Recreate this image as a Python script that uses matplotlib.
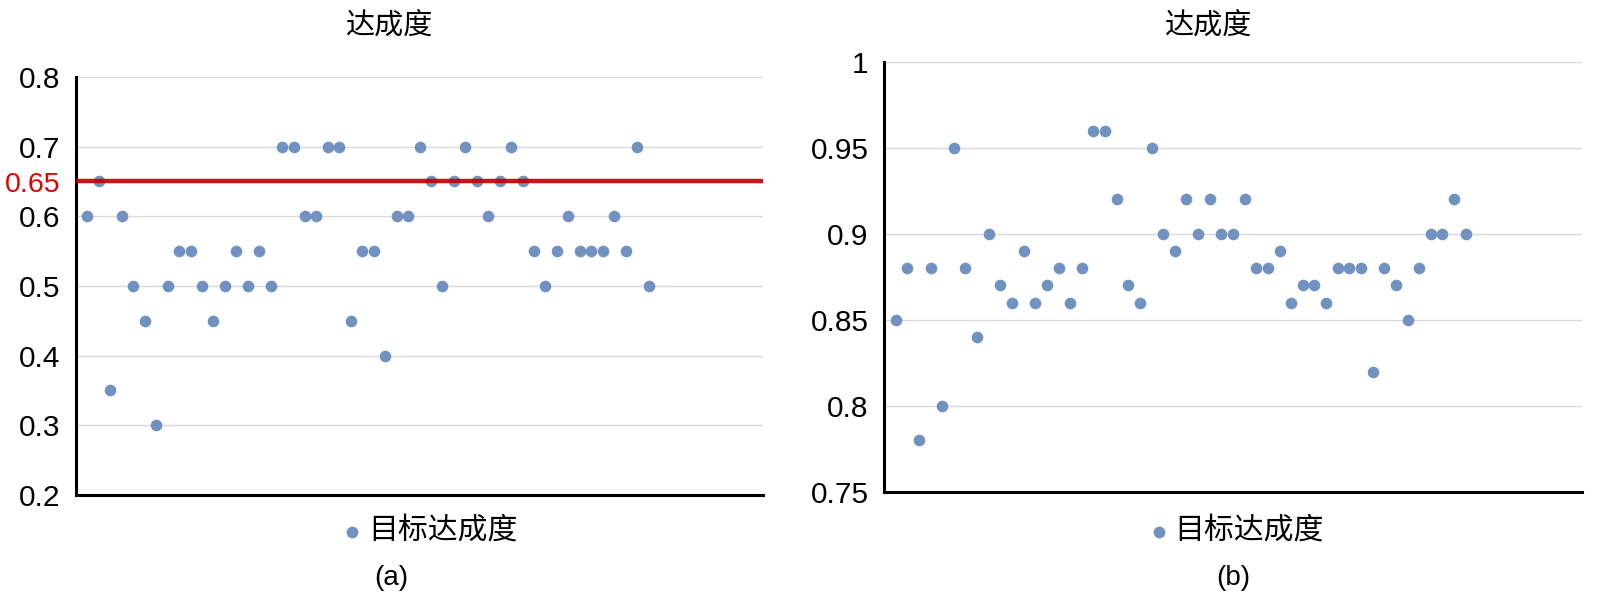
import numpy as np
import matplotlib
matplotlib.use('Agg')
import matplotlib.pyplot as plt

plt.rcParams['font.family'] = ['Liberation Sans', 'Noto Sans CJK SC', 'DejaVu Sans']

# Données
valeurs_a = [0.6, 0.65, 0.35, 0.6, 0.5, 0.45, 0.3, 0.5, 0.55, 0.55,
             0.5, 0.45, 0.5, 0.55, 0.5, 0.55, 0.5, 0.7, 0.7, 0.6,
             0.6, 0.7, 0.7, 0.45, 0.55, 0.55, 0.4, 0.6, 0.6, 0.7,
             0.65, 0.5, 0.65, 0.7, 0.65, 0.6, 0.65, 0.7, 0.65, 0.55,
             0.5, 0.55, 0.6, 0.55, 0.55, 0.55, 0.6, 0.55, 0.7, 0.5]
valeurs_b = [0.85, 0.88, 0.78, 0.88, 0.80, 0.95, 0.88, 0.84, 0.90, 0.87,
             0.86, 0.89, 0.86, 0.87, 0.88, 0.86, 0.88, 0.96, 0.96, 0.92,
             0.87, 0.86, 0.95, 0.90, 0.89, 0.92, 0.90, 0.92, 0.90, 0.90,
             0.92, 0.88, 0.88, 0.89, 0.86, 0.87, 0.87, 0.86, 0.88, 0.88,
             0.88, 0.82, 0.88, 0.87, 0.85, 0.88, 0.90, 0.90, 0.92, 0.90]
seuil = 0.65
ticks_a = [0.2, 0.3, 0.4, 0.5, 0.6, 0.7, 0.8]
ticks_b = [0.75, 0.8, 0.85, 0.9, 0.95, 1.0]
labels_b = ['0.75', '0.8', '0.85', '0.9', '0.95', '1']
titre = '达成度'
legende = '目标达成度'

couleur = '#7191c1'
W, H = 1599, 600
fig = plt.figure(figsize=(W / 100, H / 100), dpi=100)

ax1 = fig.add_axes([76 / W, (H - 495) / H, (763 - 76) / W, (495 - 77) / H])
ax2 = fig.add_axes([884 / W, (H - 492) / H, (1582 - 884) / W, (492 - 61.7) / H])


def style(ax, ticks, labels, ylim):
    ax.set_xlim(0, 60)
    ax.set_ylim(*ylim)
    ax.set_yticks(ticks)
    ax.set_yticklabels(labels, fontsize=21.5)
    ax.set_xticks([])
    ax.tick_params(axis='y', length=0, pad=11)
    for s in ['top', 'right']:
        ax.spines[s].set_visible(False)
    for s in ['left', 'bottom']:
        ax.spines[s].set_linewidth(2.2)
        ax.spines[s].set_color('black')
    ax.grid(axis='y', color='#d9d9d9', linewidth=1)
    ax.set_axisbelow(True)


x_a = np.arange(1, len(valeurs_a) + 1)
x_b = np.arange(1, len(valeurs_b) + 1)

ax1.scatter(x_a, valeurs_a, s=70, color=couleur, zorder=3, linewidths=0)
ax1.axhline(seuil, color='#c00000', linewidth=3.2, alpha=0.9, zorder=4)
style(ax1, ticks_a + [seuil], [f'{t:.1f}' for t in ticks_a] + ['0.65'], (0.2, 0.8))
ax1.get_yticklabels()[-1].set_color('#e00000')
ax1.get_yticklabels()[-1].set_fontsize(20.5)

ax2.scatter(x_b, valeurs_b, s=70, color=couleur, zorder=3, linewidths=0)
style(ax2, ticks_b, labels_b, (0.75, 1.0))

fig.text(390 / W, 1 - 26 / H, titre, ha='center', va='center', fontsize=21)
fig.text(1209 / W, 1 - 26 / H, titre, ha='center', va='center', fontsize=21)

for mx, tx, lettre, cx in [(352, 368, '(a)', 391), (1159, 1174, '(b)', 1233)]:
    fig.text(tx / W, 1 - 531 / H, legende, ha='left', va='center', fontsize=21.5)
    fig.lines.append(plt.Line2D([mx / W], [1 - 532 / H], marker='o', markersize=8.5,
                                color=couleur, markeredgewidth=0,
                                transform=fig.transFigure, figure=fig))
    fig.text(cx / W, 1 - 578 / H, lettre, ha='center', va='center', fontsize=20)

plt.savefig('out.png', dpi=100)
plt.close()
